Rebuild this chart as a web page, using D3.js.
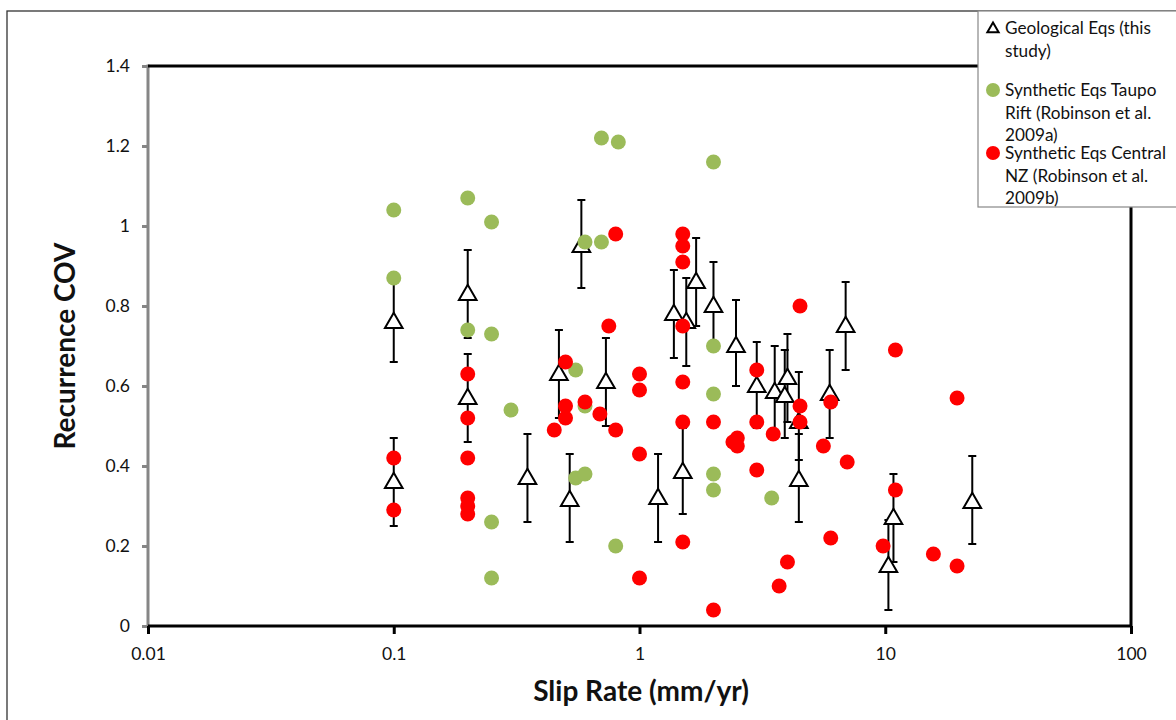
<!DOCTYPE html>
<html>
<head>
<meta charset="utf-8">
<script src="https://cdn.jsdelivr.net/npm/d3@7"></script>
<style>
  body { margin: 0; background: #fff; }
  svg { display: block; font-family: Lato, "Open Sans", sans-serif; }
</style>
</head>
<body>
<svg id="chart" width="1176" height="720"></svg>
<script>
// axis ticks
const xTicks = [0.01, 0.1, 1, 10, 100];
const yTicks = [0, 0.2, 0.4, 0.6, 0.8, 1, 1.2, 1.4];

// Geological Eqs (this study): slip rate, COV, error bar low, error bar high
const geoX  = [0.1, 0.1, 0.2, 0.2, 0.35, 0.47, 0.52, 0.58, 0.73, 1.19, 1.38, 1.55, 1.5, 1.7, 2.0, 2.47, 3.0, 3.55, 3.9, 4.0, 4.45, 4.45, 5.94, 6.9, 10.3, 10.8, 22.6];
const geoY  = [0.76, 0.36, 0.83, 0.57, 0.37, 0.63, 0.315, 0.95, 0.61, 0.32, 0.78, 0.76, 0.385, 0.86, 0.80, 0.70, 0.60, 0.585, 0.575, 0.62, 0.51, 0.365, 0.58, 0.75, 0.15, 0.27, 0.31];
const geoLo = [0.66, 0.25, 0.72, 0.46, 0.26, 0.52, 0.21, 0.845, 0.50, 0.21, 0.67, 0.65, 0.28, 0.75, 0.70, 0.60, 0.495, 0.48, 0.47, 0.51, 0.415, 0.26, 0.47, 0.64, 0.04, 0.16, 0.205];
const geoHi = [0.87, 0.47, 0.94, 0.68, 0.48, 0.74, 0.43, 1.065, 0.72, 0.43, 0.89, 0.87, 0.495, 0.97, 0.91, 0.815, 0.71, 0.70, 0.69, 0.73, 0.635, 0.48, 0.69, 0.86, 0.265, 0.38, 0.425];

// Synthetic Eqs Taupo Rift (Robinson et al. 2009a)
const taupoX = [0.1, 0.1, 0.2, 0.2, 0.25, 0.25, 0.25, 0.25, 0.3, 0.55, 0.55, 0.6, 0.6, 0.6, 0.7, 0.7, 0.82, 0.8, 2, 2, 2, 2, 2, 3.45];
const taupoY = [1.04, 0.87, 1.07, 0.74, 1.01, 0.73, 0.26, 0.12, 0.54, 0.64, 0.37, 0.38, 0.55, 0.96, 0.96, 1.22, 1.21, 0.2, 1.16, 0.7, 0.58, 0.38, 0.34, 0.32];

// Synthetic Eqs Central NZ (Robinson et al. 2009b)
const nzX = [0.1, 0.1, 0.2, 0.2, 0.2, 0.2, 0.2, 0.2, 0.45, 0.5, 0.5, 0.5, 0.6, 0.69, 0.75, 0.8, 0.8, 1, 1, 1, 1, 1.5, 1.5, 1.5, 1.5, 1.5, 1.5, 1.5, 2, 2, 2.4, 2.5, 2.5, 3, 3, 3, 3.5, 3.7, 4, 4.5, 4.5, 4.5, 5.6, 6, 6, 7, 9.8, 11, 11, 15.7, 19.6, 19.6];
const nzY = [0.42, 0.29, 0.63, 0.52, 0.42, 0.32, 0.30, 0.28, 0.49, 0.66, 0.55, 0.52, 0.56, 0.53, 0.75, 0.98, 0.49, 0.63, 0.59, 0.43, 0.12, 0.98, 0.95, 0.91, 0.75, 0.61, 0.51, 0.21, 0.51, 0.04, 0.46, 0.47, 0.45, 0.64, 0.51, 0.39, 0.48, 0.10, 0.16, 0.80, 0.55, 0.51, 0.45, 0.56, 0.22, 0.41, 0.20, 0.69, 0.34, 0.18, 0.57, 0.15];

const svg = d3.select('#chart');
const plotL = 148, plotR = 1131, plotT = 66, plotB = 626;

const x = d3.scaleLog().domain([0.01, 100]).range([plotL, plotR]);
const y = d3.scaleLinear().domain([0, 1.4]).range([plotB, plotT]);

// outer frame (runs off the right and bottom edges)
svg.append('rect')
    .attr('x', 7).attr('y', 11)
    .attr('width', 1200).attr('height', 740)
    .attr('fill', 'none').attr('stroke', '#333').attr('stroke-width', 1.3);

// y axis (gray)
const yAxis = svg.append('g')
    .attr('transform', `translate(${plotL},0)`)
    .call(d3.axisLeft(y).tickValues(yTicks).tickSize(6).tickPadding(12)
        .tickFormat(d => d3.format('~g')(d)));
yAxis.select('.domain').remove();
yAxis.selectAll('line').attr('stroke', '#868686').attr('stroke-width', 3);
yAxis.selectAll('text').attr('font-size', 17.5).attr('fill', '#111').attr('font-family', 'Lato');
svg.append('line')
    .attr('x1', plotL).attr('x2', plotL).attr('y1', plotT - 1.5).attr('y2', plotB)
    .attr('stroke', '#868686').attr('stroke-width', 3);

// x axis (black)
const xAxis = svg.append('g')
    .attr('transform', `translate(0,${plotB})`)
    .call(d3.axisBottom(x).tickValues(xTicks).tickSize(8).tickPadding(14)
        .tickFormat(d => d3.format('~g')(d)));
xAxis.select('.domain').remove();
xAxis.selectAll('line').attr('stroke', '#000').attr('stroke-width', 3);
xAxis.selectAll('text').attr('font-size', 17.5).attr('fill', '#111').attr('font-family', 'Lato');

// plot frame: bottom, top, right in black
svg.append('path')
    .attr('d', `M${plotL},${plotB}H${plotR}V${plotT}H${plotL}`)
    .attr('fill', 'none').attr('stroke', '#000').attr('stroke-width', 3);

// axis titles
svg.append('text')
    .attr('x', 641).attr('y', 701)
    .attr('text-anchor', 'middle')
    .attr('font-size', 28).attr('font-weight', 'bold').attr('fill', '#111')
    .text('Slip Rate (mm/yr)');
svg.append('text')
    .attr('transform', 'translate(75,346) rotate(-90)')
    .attr('text-anchor', 'middle')
    .attr('font-size', 28).attr('font-weight', 'bold').attr('fill', '#111')
    .text('Recurrence COV');

const tri = d3.symbol().type(d3.symbolTriangle).size(135);

// geological eqs: error bars + open triangles
const geo = geoX.map((v, i) => ({x: v, y: geoY[i], lo: geoLo[i], hi: geoHi[i]}));
const eb = svg.append('g').attr('stroke', '#000').attr('stroke-width', 2);
eb.selectAll('.bar').data(geo).enter().append('path')
    .attr('d', d => {
        const cx = x(d.x);
        return `M${cx},${y(d.lo)}V${y(d.hi)}M${cx - 4},${y(d.hi)}H${cx + 4}M${cx - 4},${y(d.lo)}H${cx + 4}`;
    });
svg.append('g').selectAll('path').data(geo).enter().append('path')
    .attr('d', tri)
    .attr('transform', d => `translate(${x(d.x)},${y(d.y) + 1})`)
    .attr('fill', '#fff').attr('stroke', '#000').attr('stroke-width', 2);

// synthetic taupo (green)
svg.append('g').selectAll('circle').data(taupoX.map((v, i) => [v, taupoY[i]])).enter()
    .append('circle')
    .attr('cx', d => x(d[0])).attr('cy', d => y(d[1])).attr('r', 7.5)
    .attr('fill', '#9BBB59');

// synthetic central NZ (red)
svg.append('g').selectAll('circle').data(nzX.map((v, i) => [v, nzY[i]])).enter()
    .append('circle')
    .attr('cx', d => x(d[0])).attr('cy', d => y(d[1])).attr('r', 7.5)
    .attr('fill', '#FF0000');

// legend
const legend = svg.append('g');
legend.append('rect')
    .attr('x', 978).attr('y', 11).attr('width', 260).attr('height', 196)
    .attr('fill', '#fff').attr('stroke', '#888').attr('stroke-width', 1.2);
const legItems = [
    {sym: 'tri', lines: ['Geological Eqs (this', 'study)'], y: 28},
    {sym: '#9BBB59', lines: ['Synthetic Eqs Taupo', 'Rift (Robinson et al.', '2009a)'], y: 90},
    {sym: '#FF0000', lines: ['Synthetic Eqs Central', 'NZ (Robinson et al.', '2009b)'], y: 153}
];
legItems.forEach(it => {
    if (it.sym === 'tri') {
        legend.append('path')
            .attr('d', d3.symbol().type(d3.symbolTriangle).size(55)())
            .attr('transform', `translate(993,${it.y + 1})`)
            .attr('fill', '#fff').attr('stroke', '#000').attr('stroke-width', 2);
    } else {
        legend.append('circle')
            .attr('cx', 993).attr('cy', it.y).attr('r', 7)
            .attr('fill', it.sym);
    }
    it.lines.forEach((t, j) => {
        legend.append('text')
            .attr('x', 1005).attr('y', it.y + j * 22.5 + 6)
            .attr('font-size', 17.2).attr('fill', '#111')
            .text(t);
    });
});
</script>
</body>
</html>
